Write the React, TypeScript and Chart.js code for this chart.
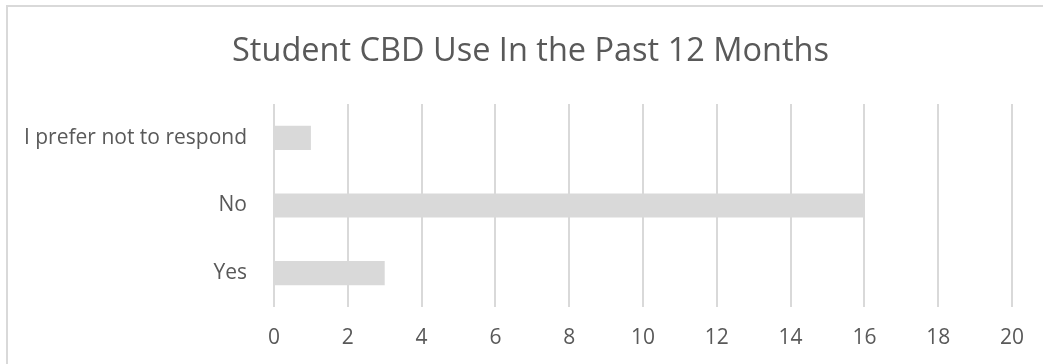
import React, { useEffect, useRef } from "react";
import { Chart, registerables } from "chart.js";

Chart.register(...registerables);

const titleText = "Student CBD Use In the Past 12 Months";
const categories = ["I prefer not to respond", "No", "Yes"];
const counts = [1, 16, 3];
const xMin = 0;
const xMax = 20;
const xStep = 2;

const FONT = "'Open Sans', 'Noto Sans', sans-serif";
const TEXT = "#595959";
const GRID = "#d9d9d9";
const BAR = "#d9d9d9";

// let the category labels extend to the left of the title's padding box
const widenLabelArea = {
  id: "widenLabelArea",
  afterLayout(chart: any) {
    if (chart.scales && chart.scales.y) chart.scales.y.left = 0;
  },
};

export default function App() {
  const ref = useRef<HTMLCanvasElement | null>(null);

  useEffect(() => {
    if (!ref.current) return;
    const chart = new Chart(ref.current, {
      type: "bar",
      data: {
        labels: categories,
        datasets: [
          {
            label: "Count",
            data: counts,
            backgroundColor: BAR,
            borderWidth: 0,
            categoryPercentage: 1,
            barPercentage: 0.357,
          },
        ],
      },
      options: {
        indexAxis: "y",
        responsive: false,
        animation: false,
        layout: { padding: { left: 49, right: 31, top: 0, bottom: 0 } },
        plugins: {
          legend: { display: false },
          tooltip: { enabled: false },
          title: {
            display: true,
            text: titleText,
            color: TEXT,
            font: { family: FONT, size: 32.5, weight: "normal" },
            padding: { top: 32, bottom: 33 },
          },
        },
        scales: {
          x: {
            min: xMin,
            max: xMax,
            ticks: {
              stepSize: xStep,
              color: TEXT,
              font: { family: FONT, size: 21 },
              padding: 18,
            },
            grid: { color: GRID, lineWidth: 2, drawTicks: false },
            border: { display: false },
            afterFit: (s: any) => {
              s.height = 57;
            },
          },
          y: {
            ticks: {
              color: TEXT,
              font: { family: FONT, size: 21 },
              padding: 27,
            },
            grid: { display: false, drawTicks: false },
            border: { display: false },
            afterFit: (s: any) => {
              s.width = 225;
            },
          },
        },
      },
      plugins: [widenLabelArea],
    });
    return () => chart.destroy();
  }, []);

  return (
    <div
      style={{
        position: "fixed",
        left: 0,
        top: 0,
        width: 1043,
        height: 364,
        overflow: "hidden",
        background: "#ffffff",
      }}
    >
      <div
        style={{
          position: "absolute",
          left: 6,
          top: 5,
          width: 1100,
          height: 420,
          borderLeft: "2px solid #d9d9d9",
          borderTop: "2px solid #d9d9d9",
          boxSizing: "border-box",
        }}
      />
      <canvas
        ref={ref}
        width={1043}
        height={364}
        style={{ position: "absolute", left: 0, top: 0 }}
      />
    </div>
  );
}
